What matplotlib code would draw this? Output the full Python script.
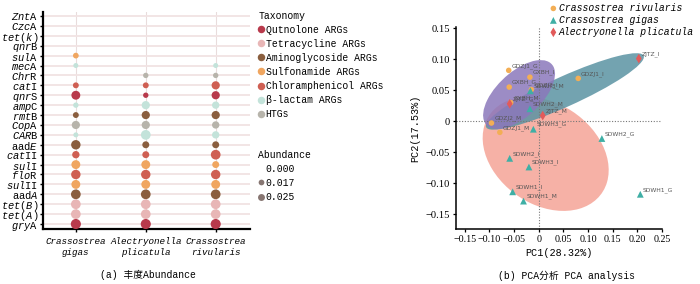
import matplotlib
matplotlib.use('Agg')
import matplotlib.pyplot as plt
from matplotlib.lines import Line2D
from matplotlib.patches import Ellipse

plt.rcParams['font.family'] = ['Liberation Mono', 'Noto Sans CJK SC', 'DejaVu Sans']
plt.rcParams['mathtext.fontset'] = 'custom'
plt.rcParams['mathtext.rm'] = 'Liberation Mono'
plt.rcParams['mathtext.it'] = 'Liberation Mono:italic'

# ---- (a) abundance data ----
genes = ['ZntA', 'CzcA', 'tet(k)', 'qnrB', 'sulA', 'mecA', 'ChrR', 'catI', 'qnrS', 'ampC', 'rmtB',
         'CopA', 'CARB', 'aadE', 'catII', 'sulI', 'floR', 'sulII', 'aadA', 'tet(B)', 'tet(A)', 'gryA']
gene_labels = [r'$\mathit{Znt}$A', r'$\mathit{Czc}$A', r'$\mathit{tet(k)}$', r'$\mathit{qnr}$B',
               r'$\mathit{sul}$A', r'$\mathit{mec}$A', r'$\mathit{Chr}$R', r'$\mathit{cat}$I',
               r'$\mathit{qnr}$S', r'$\mathit{amp}$C', r'$\mathit{rmt}$B', r'$\mathit{Cop}$A',
               r'$\mathit{CAR}$B', r'aad$\mathit{E}$', r'$\mathit{cat}$II', r'$\mathit{sul}$I',
               r'$\mathit{flo}$R', r'$\mathit{sul}$II', r'aad$\mathit{A}$', r'$\mathit{tet(B)}$',
               r'$\mathit{tet(A)}$', r'$\mathit{gry}$A']
gene_type = ['HTGs', 'HTGs', 'Tetracycline ARGs', 'Qutnolone ARGs', 'Sulfonamide ARGs', 'β-lactam ARGs',
             'HTGs', 'Chloramphenicol ARGs', 'Qutnolone ARGs', 'β-lactam ARGs', 'Aminoglycoside ARGs',
             'HTGs', 'β-lactam ARGs', 'Aminoglycoside ARGs', 'Chloramphenicol ARGs', 'Sulfonamide ARGs',
             'Chloramphenicol ARGs', 'Sulfonamide ARGs', 'Aminoglycoside ARGs', 'Tetracycline ARGs',
             'Tetracycline ARGs', 'Qutnolone ARGs']
species = ['Crassostrea\ngigas', 'Alectryonella\nplicatula', 'Crassostrea\nrivularis']
# abundance per gene: C. gigas, A. plicatula, C. rivularis
abund = [
    [0, 0, 0], [0, 0, 0], [0, 0, 0], [0, 0, 0],
    [0.017, 0, 0], [0.013, 0, 0.013], [0, 0.015, 0.015], [0.018, 0.018, 0.035],
    [0.041, 0.015, 0.035], [0.015, 0.035, 0.028], [0.018, 0.035, 0.035], [0.035, 0.035, 0.028],
    [0.013, 0.049, 0.028], [0.046, 0.025, 0.025], [0.028, 0.025, 0.049], [0.041, 0.041, 0.025],
    [0.046, 0.046, 0.046], [0.041, 0.041, 0.041], [0.049, 0.049, 0.049], [0.049, 0.049, 0.049],
    [0.049, 0.049, 0.049], [0.053, 0.053, 0.053],
]
tax_names = ['Qutnolone ARGs', 'Tetracycline ARGs', 'Aminoglycoside ARGs', 'Sulfonamide ARGs',
             'Chloramphenicol ARGs', 'β-lactam ARGs', 'HTGs']
tax_colors = ['#b83a4c', '#e8b6b6', '#8a5e3e', '#f0a660', '#cf5f53', '#c3e3da', '#b7b4ab']
abund_legend = [0.000, 0.017, 0.025]
SIZE_SCALE = 1000

# ---- (b) PCA data ----
riv_names = ['GDZJ1_G', 'GXBH_I', 'GDZJ1_I', 'GXBH_G', 'GDZJ3_I', 'GXBH_M', 'GDZJ2_M', 'GDZJ1_M']
riv_x = [-0.061, -0.018, 0.080, -0.060, -0.015, -0.057, -0.096, -0.079]
riv_y = [0.082, 0.071, 0.069, 0.055, 0.051, 0.030, -0.003, -0.018]
gig_names = ['SDWH3_M', 'SDWH2_M', 'SDWH3_G', 'SDWH2_G', 'SDWH2_I', 'SDWH3_I', 'SDWH1_I', 'SDWH1_M', 'SDWH1_G']
gig_x = [-0.017, -0.018, -0.011, 0.128, -0.059, -0.020, -0.053, -0.031, 0.206]
gig_y = [0.049, 0.020, -0.013, -0.028, -0.060, -0.074, -0.114, -0.129, -0.118]
pli_names = ['ZJTZ_I', 'ZJTZ_G', 'ZJTZ_M']
pli_x = [0.203, -0.059, 0.008]
pli_y = [0.101, 0.028, 0.009]
# confidence ellipses: center x, center y, width, height, angle
ell_gig = (0.014, -0.053, 0.265, 0.17, -20)
ell_pli = (0.053, 0.048, 0.34, 0.05, 19.6)
ell_riv = (-0.040, 0.043, 0.166, 0.078, 32.7)

fig = plt.figure(figsize=(7, 2.84), dpi=100)

# ================= (a) =================
ax = fig.add_axes([0.0614, 0.1937, 0.2957, 0.764])
n = len(genes)
ypos = [n - 1 - i for i in range(n)]
for i, g in enumerate(genes):
    c = tax_colors[tax_names.index(gene_type[i])]
    for j in range(len(species)):
        v = abund[i][j]
        if v > 0:
            ax.scatter(j, ypos[i], s=v * SIZE_SCALE, color=c, edgecolors='none', zorder=3)

ax.set_xlim(-0.47, 2.49)
ax.set_ylim(-0.5, n - 0.6)
ax.set_yticks(ypos)
ax.set_yticklabels(gene_labels, fontsize=7.5)
ax.set_xticks(range(len(species)))
ax.set_xticklabels(species, fontsize=6.7, fontstyle='italic', linespacing=1.25)
ax.grid(axis='y', color='#f1e3e3', lw=1.3, zorder=0)
ax.grid(axis='x', color='#e9dcdc', lw=0.8, zorder=0)
ax.set_axisbelow(True)
for s in ['top', 'right']:
    ax.spines[s].set_visible(False)
ax.spines['left'].set_linewidth(1.6)
ax.spines['bottom'].set_linewidth(1.6)
ax.tick_params(axis='y', length=2.5, width=1, pad=1)
ax.tick_params(axis='x', length=2, width=1, pad=4)

tax_handles = [Line2D([], [], marker='o', ls='', color=c, markersize=5.4, markeredgewidth=0)
               for c in tax_colors]
leg1 = fig.legend(tax_handles, tax_names, title='Taxonomy', loc='upper left',
                  bbox_to_anchor=(0.362, 0.98), frameon=False, fontsize=7, title_fontsize=7,
                  handlelength=0.6, handletextpad=0.15, labelspacing=0.42, borderpad=0,
                  alignment='left')
ab_handles = [Line2D([], [], marker='o', ls='', color='#877672',
                     markersize=(v * SIZE_SCALE) ** 0.5 if v > 0 else 0, markeredgewidth=0)
              for v in abund_legend]
leg2 = fig.legend(ab_handles, ['%.3f' % v for v in abund_legend], title='Abundance', loc='upper left',
                  bbox_to_anchor=(0.362, 0.49), frameon=False, fontsize=7, title_fontsize=7,
                  handlelength=0.6, handletextpad=0.15, labelspacing=0.42, borderpad=0,
                  alignment='left')

fig.text(148 / 700, 1 - 275 / 284, '(a) 丰度Abundance', ha='center', va='center', fontsize=7)

# ================= (b) =================
bx = fig.add_axes([0.6514, 0.1937, 0.2943, 0.7113])
for (cx, cy, w, h, a), col in [(ell_gig, '#f5a497'), (ell_pli, '#5a93a3'), (ell_riv, '#8b78bb')]:
    bx.add_patch(Ellipse((cx, cy), w, h, angle=a, facecolor=col, edgecolor='none', alpha=0.85, zorder=1))

bx.axhline(0, color='#777777', ls=(0, (1, 1.5)), lw=0.8, zorder=2)
bx.axvline(0, color='#777777', ls=(0, (1, 1.5)), lw=0.8, zorder=2)

bx.scatter(riv_x, riv_y, marker='o', s=16, color='#f3ae55', edgecolors='none', zorder=4,
           label='Crassostrea rivularis')
bx.scatter(gig_x, gig_y, marker='^', s=24, color='#3fafa5', edgecolors='none', zorder=4,
           label='Crassostrea gigas')
bx.scatter(pli_x, pli_y, marker='d', s=24, color='#e25a5a', edgecolors='none', zorder=4,
           label='Alectryonella plicatula')
for names, xs, ys in [(riv_names, riv_x, riv_y), (gig_names, gig_x, gig_y), (pli_names, pli_x, pli_y)]:
    for nm, x, y in zip(names, xs, ys):
        bx.annotate(nm, (x, y), xytext=(2, 2.5), textcoords='offset points', fontsize=4.3,
                    family='DejaVu Sans', color='#555555', zorder=5)

bx.set_xlim(-0.168, 0.25)
bx.set_ylim(-0.174, 0.152)
bx.set_xticks([-0.15, -0.10, -0.05, 0, 0.05, 0.10, 0.15, 0.20, 0.25])
bx.set_xticklabels(['−0.15', '−0.10', '−0.05', '0', '0.05', '0.10', '0.15', '0.20', '0.25'],
                   fontsize=7.2, family='Liberation Serif')
bx.set_yticks([-0.15, -0.10, -0.05, 0, 0.05, 0.10, 0.15])
bx.set_yticklabels(['−0.15', '−0.10', '−0.05', '0', '0.05', '0.10', '0.15'],
                   fontsize=7.6, family='Liberation Serif')
for s in ['top', 'right']:
    bx.spines[s].set_visible(False)
bx.spines['left'].set_linewidth(1.1)
bx.spines['bottom'].set_linewidth(1.1)
bx.tick_params(length=2.5, width=0.9, pad=2)
bx.set_xlabel('PC1(28.32%)', fontsize=7.3, labelpad=3)
bx.set_ylabel('PC2(17.53%)', fontsize=7.3, labelpad=4)

fig.legend(*bx.get_legend_handles_labels(), loc='upper left', bbox_to_anchor=(0.778, 1.01),
           frameon=False, prop={'style': 'italic', 'size': 7, 'family': 'Liberation Mono'},
           handlelength=0.6, handletextpad=0.25, labelspacing=0.2, borderpad=0.1)

fig.text(566 / 700, 1 - 276 / 284, '(b) PCA分析 PCA analysis', ha='center', va='center', fontsize=7)

fig.savefig('out.png', dpi=100)
